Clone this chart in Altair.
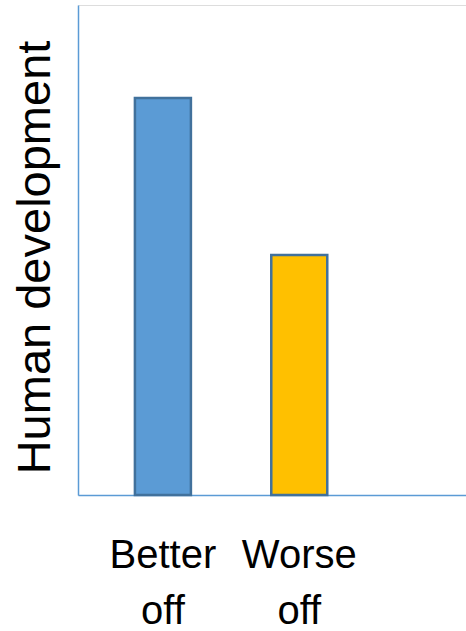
import altair as alt
import pandas as pd

categories = ["Better off", "Worse off"]
positions = [1, 2]
values = [81, 49]
colors = ["#5B9BD5", "#FFC000"]

df = pd.DataFrame({"cat": categories, "pos": positions, "val": values, "color": colors})

xscale = alt.Scale(domain=[0.414, 3.186], nice=False, zero=False)
yscale = alt.Scale(domain=[0, 100], nice=False)

axis_line = "#5B9BD5"

bars = alt.Chart(df).mark_bar(size=56, stroke="#41719C", strokeWidth=2.5).encode(
    x=alt.X("pos:Q", scale=xscale,
            axis=alt.Axis(title=None, labels=False, ticks=False, grid=False,
                          domainColor=axis_line, domainWidth=1.5)),
    y=alt.Y("val:Q", scale=yscale,
            axis=alt.Axis(title="Human development", labels=False, ticks=False, grid=False,
                          domainColor=axis_line, domainWidth=1.5,
                          titleFont="Liberation Sans", titleFontSize=47,
                          titleFontWeight="normal", titleColor="#000000",
                          titleAngle=270, titleAlign="center", titleBaseline="alphabetic",
                          titleX=-29, titleY=252)),
    color=alt.Color("color:N", scale=None),
)

labels = alt.Chart(df).mark_text(
    font="Liberation Sans", fontSize=40, color="#000000",
    baseline="alphabetic", align="center", lineBreak=" ", lineHeight=56,
).encode(
    x=alt.X("pos:Q", scale=xscale),
    y=alt.value(563),
    text="cat:N",
)

chart = (bars + labels).properties(
    width=388, height=490,
    autosize=alt.AutoSizeParams(type="none"),
    padding={"left": 78, "top": 5, "right": 0, "bottom": 136},
).configure_view(stroke=None).configure(background="white")

chart.save("out.html", embed_options={"renderer": "svg", "actions": False})
